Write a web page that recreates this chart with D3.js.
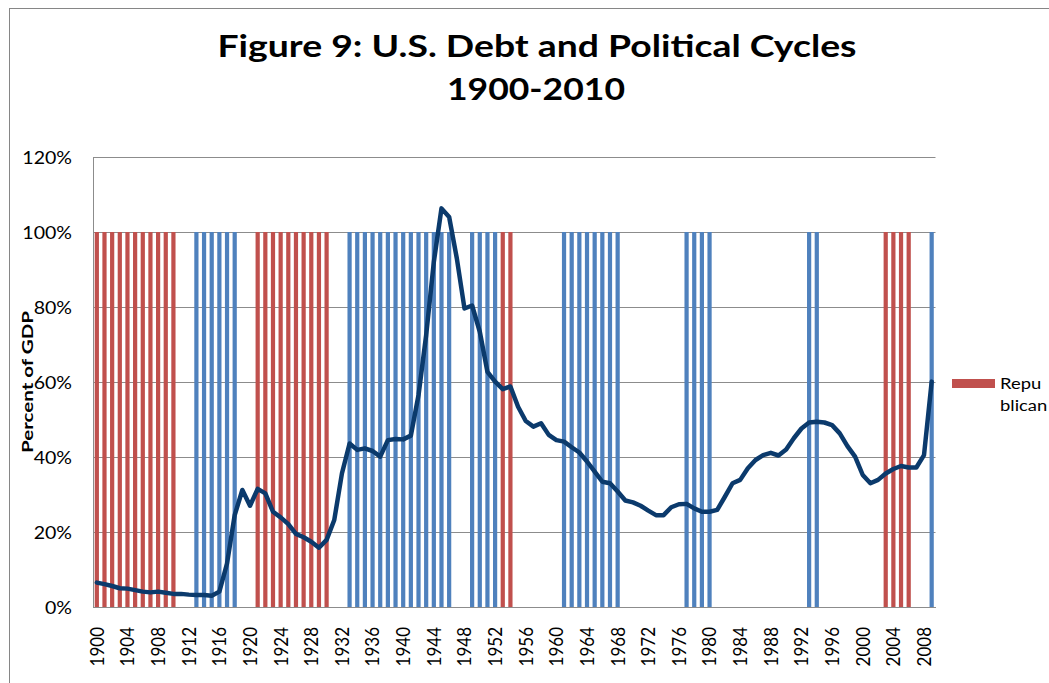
<!DOCTYPE html>
<html>
<head>
<meta charset="utf-8">
<script src="https://cdn.jsdelivr.net/npm/d3@7"></script>
<style>
  body { margin: 0; background: #fff; }
  svg text { font-family: Lato, "Open Sans", sans-serif; fill: #000; }
</style>
</head>
<body>
<script>
// ---- data ----
var years = d3.range(1900, 2010);

// federal debt, percent of GDP, 1900..2009
var debtPct = [
  6.5, 6.1, 5.6, 5.0, 4.9, 4.5, 4.1, 3.9, 4.1, 3.8,
  3.5, 3.5, 3.3, 3.2, 3.2, 3.0, 4.1, 11.6, 24.5, 31.2,
  27.0, 31.5, 30.3, 25.4, 23.9, 22.1, 19.5, 18.6, 17.4, 15.8,
  17.9, 23.2, 35.6, 43.6, 41.9, 42.3, 41.6, 40.1, 44.5, 44.8,
  44.7, 45.7, 56.5, 72.5, 92.0, 106.3, 104.0, 93.0, 79.6, 80.4,
  73.4, 62.7, 60.1, 58.1, 58.8, 53.4, 49.6, 48.1, 49.0, 45.9,
  44.5, 44.1, 42.6, 41.2, 38.8, 36.1, 33.4, 33.0, 30.8, 28.4,
  27.9, 27.0, 25.7, 24.5, 24.5, 26.6, 27.4, 27.5, 26.3, 25.4,
  25.4, 25.9, 29.4, 33.0, 33.9, 37.0, 39.2, 40.5, 41.1, 40.4,
  42.0, 45.0, 47.6, 49.2, 49.4, 49.2, 48.5, 46.3, 42.9, 40.1,
  35.2, 33.0, 33.9, 35.6, 36.8, 37.6, 37.2, 37.2, 40.5, 60.1
];

var republicanYears = [1900, 1901, 1902, 1903, 1904, 1905, 1906, 1907, 1908, 1909, 1910,
  1921, 1922, 1923, 1924, 1925, 1926, 1927, 1928, 1929, 1930,
  1953, 1954, 2003, 2004, 2005, 2006];

var democraticYears = [1913, 1914, 1915, 1916, 1917, 1918,
  1933, 1934, 1935, 1936, 1937, 1938, 1939, 1940, 1941, 1942, 1943, 1944, 1945, 1946,
  1949, 1950, 1951, 1952, 1961, 1962, 1963, 1964, 1965, 1966, 1967, 1968,
  1977, 1978, 1979, 1980, 1993, 1994, 2009];

var barLevel = 1.0;   // party bars reach 100%

var yTicks = [0, 0.2, 0.4, 0.6, 0.8, 1.0, 1.2];
var xTickYears = [1900, 1904, 1908, 1912, 1916, 1920, 1924, 1928, 1932, 1936, 1940,
  1944, 1948, 1952, 1956, 1960, 1964, 1968, 1972, 1976, 1980, 1984, 1988, 1992,
  1996, 2000, 2004, 2008];

var titleLines = ["Figure 9: U.S. Debt and Political Cycles", "1900-2010"];

// ---- layout ----
var svgWidth = 1049;
var svgHeight = 683;
var plot = { left: 93, right: 935.5, top: 157, bottom: 607 };
var stretch = 1.15;   // the source picture is a little wider than tall
var gridColor = "#8c8c8c";
var red = "#c0504d", blue = "#4f81bd", navy = "#0b3a6c";

var svg = d3.select("body")
    .append("svg")
    .attr("width", svgWidth)
    .attr("height", svgHeight);

// chart frame
svg.append("rect")
    .attr("x", 9.5).attr("y", 8.5)
    .attr("width", svgWidth + 10).attr("height", svgHeight + 10)
    .attr("fill", "#fff").attr("stroke", "#868686");

var x = d3.scaleBand().domain(years).range([plot.left, plot.right]);
var y = d3.scaleLinear().domain([0, 1.2]).range([plot.bottom, plot.top]);

// gridlines
svg.append("g")
    .attr("transform", `translate(${plot.left},0)`)
    .call(d3.axisLeft(y).tickValues(yTicks).tickSize(-(plot.right - plot.left)).tickFormat(""))
    .call(g => g.select(".domain").remove())
    .selectAll("line").attr("stroke", gridColor);

// party bars
var barW = x.bandwidth() * 0.55;
function partyBars(list, color) {
    svg.append("g").selectAll("rect")
        .data(list)
        .join("rect")
        .attr("x", d => x(d) + (x.bandwidth() - barW) / 2)
        .attr("y", y(barLevel))
        .attr("width", barW)
        .attr("height", y(0) - y(barLevel))
        .attr("fill", color);
}
partyBars(republicanYears, red);
partyBars(democraticYears, blue);

// axes
var yAxis = svg.append("g")
    .attr("transform", `translate(${plot.left},0)`)
    .call(d3.axisLeft(y).tickValues(yTicks).tickSize(0).tickSizeOuter(0).tickFormat(d3.format(".0%")));
yAxis.attr("font-family", null).attr("font-size", null);
yAxis.select(".domain").attr("stroke", gridColor);
yAxis.selectAll("text")
    .attr("x", null)
    .attr("dy", "0.38em")
    .attr("font-size", 17)
    .attr("transform", `translate(-21,0) scale(${stretch},1)`);

var xAxis = svg.append("g")
    .attr("transform", `translate(0,${plot.bottom})`)
    .call(d3.axisBottom(x).tickValues(xTickYears).tickSize(0).tickSizeOuter(0).tickFormat(d3.format("d")));
xAxis.attr("font-family", null).attr("font-size", null);
xAxis.select(".domain").attr("stroke", gridColor);
xAxis.selectAll("text")
    .attr("y", null)
    .attr("dy", "0.35em")
    .attr("text-anchor", "end")
    .attr("font-size", 17)
    .attr("transform", `translate(0,20) scale(${stretch},1) rotate(-90)`);

// debt line
var debtLine = d3.line()
    .x((d, i) => x(years[i]) + x.bandwidth() / 2)
    .y(d => y(d / 100));

svg.append("path")
    .datum(debtPct)
    .attr("d", debtLine)
    .attr("fill", "none")
    .attr("stroke", navy)
    .attr("stroke-width", 4.5)
    .attr("stroke-linejoin", "round")
    .attr("stroke-linecap", "round");

// title
svg.append("text")
    .attr("x", 537).attr("y", 57)
    .attr("text-anchor", "middle")
    .attr("font-size", 30).attr("font-weight", "bold")
    .attr("textLength", 639).attr("lengthAdjust", "spacingAndGlyphs")
    .text(titleLines[0]);
svg.append("text")
    .attr("x", 536).attr("y", 100)
    .attr("text-anchor", "middle")
    .attr("font-size", 30).attr("font-weight", "bold")
    .attr("textLength", 178).attr("lengthAdjust", "spacingAndGlyphs")
    .text(titleLines[1]);

// y axis title
svg.append("text")
    .attr("transform", `translate(33,${(plot.top + plot.bottom) / 2}) rotate(-90)`)
    .attr("text-anchor", "middle")
    .attr("font-size", 16).attr("font-weight", "bold")
    .attr("textLength", 142).attr("lengthAdjust", "spacingAndGlyphs")
    .text("Percent of GDP");

// legend
var legend = svg.append("g").attr("transform", "translate(952,379)");
legend.append("rect").attr("width", 43).attr("height", 9).attr("fill", red);
legend.append("text").attr("transform", `translate(48,10) scale(${stretch},1)`)
    .attr("font-size", 16).text("Repu");
legend.append("text").attr("transform", `translate(48,32) scale(${stretch},1)`)
    .attr("font-size", 16).text("blican");
</script>
</body>
</html>
